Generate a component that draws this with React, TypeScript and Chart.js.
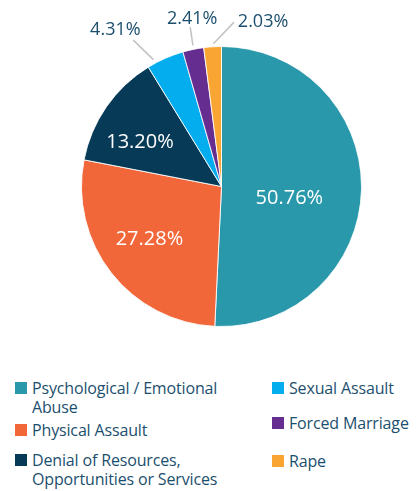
import React, { useEffect, useRef } from "react";
import { Chart, registerables } from "chart.js";

Chart.register(...registerables);

const categories = [
  "Psychological / Emotional Abuse",
  "Physical Assault",
  "Denial of Resources, Opportunities or Services",
  "Sexual Assault",
  "Forced Marriage",
  "Rape",
];
const values = [50.76, 27.28, 13.2, 4.31, 2.41, 2.03];
const valueLabels = ["50.76%", "27.28%", "13.20%", "4.31%", "2.41%", "2.03%"];
const colors = ["#2a98ab", "#f26739", "#063a56", "#03adee", "#662d91", "#f9a533"];

const TEXT_COLOR = "#1c4f6e";
const FONT = "'Open Sans', sans-serif";

// label placement styles (not data)
const insideStyle: Record<number, { nudge: number; rf: number }> = {
  0: { nudge: 7.2, rf: 0.49 },
  1: { nudge: 2.4, rf: 0.634 },
  2: { nudge: -5.7, rf: 0.666 },
};
const outsideStyle: Record<number, { nudge: number; dr: number; lx: number; ly: number; tx: number; ty: number }> = {
  3: { nudge: -4.5, dr: 4, lx: -20, ly: -19.5, tx: -18, ty: -5 },
  4: { nudge: 0.2, dr: 4, lx: -2.7, ly: -18.3, tx: 2, ty: -3.4 },
  5: { nudge: 0.4, dr: 3, lx: 20.7, ly: -21.6, tx: 29, ty: 5 },
};

const labelPlugin = {
  id: "sliceLabels",
  afterDatasetsDraw(chart: any) {
    const ctx = chart.ctx;
    const meta = chart.getDatasetMeta(0);
    ctx.save();
    meta.data.forEach((arc: any, i: number) => {
      const { x, y, startAngle, endAngle, outerRadius } = arc.getProps(
        ["x", "y", "startAngle", "endAngle", "outerRadius"],
        true
      );
      const mid = (startAngle + endAngle) / 2;
      if (insideStyle[i]) {
        const s = insideStyle[i];
        const a = mid + (s.nudge * Math.PI) / 180;
        const px = x + Math.cos(a) * outerRadius * s.rf;
        const py = y + Math.sin(a) * outerRadius * s.rf;
        ctx.fillStyle = "#ffffff";
        ctx.font = `20px ${FONT}`;
        ctx.textAlign = "center";
        ctx.textBaseline = "alphabetic";
        ctx.fillText(valueLabels[i], px, py + 7);
      } else if (outsideStyle[i]) {
        const s = outsideStyle[i];
        const a = mid + (s.nudge * Math.PI) / 180;
        const sx = x + Math.cos(a) * (outerRadius + s.dr);
        const sy = y + Math.sin(a) * (outerRadius + s.dr);
        const ex = sx + s.lx;
        const ey = sy + s.ly;
        ctx.strokeStyle = "#c2c2c2";
        ctx.lineWidth = 1.5;
        ctx.beginPath();
        ctx.moveTo(sx, sy);
        ctx.lineTo(ex, ey);
        ctx.stroke();
        ctx.fillStyle = TEXT_COLOR;
        ctx.font = `18px ${FONT}`;
        ctx.textAlign = "center";
        ctx.textBaseline = "alphabetic";
        ctx.fillText(valueLabels[i], ex + s.tx, ey + s.ty);
      }
    });
    ctx.restore();
  },
};

// legend placement (page coordinates)
const legendPos = [
  { left: 15, top: 379 },
  { left: 15, top: 421 },
  { left: 15, top: 451 },
  { left: 272, top: 379 },
  { left: 272, top: 414 },
  { left: 272, top: 452 },
];
const legendLines = [
  ["Psychological / Emotional", "Abuse"],
  ["Physical Assault"],
  ["Denial of Resources,", "Opportunities or Services"],
  ["Sexual Assault"],
  ["Forced Marriage"],
  ["Rape"],
];

export default function App() {
  const ref = useRef<HTMLCanvasElement>(null);
  useEffect(() => {
    if (!ref.current) return;
    const chart = new Chart(ref.current, {
      type: "pie",
      data: {
        labels: categories,
        datasets: [
          {
            data: values,
            backgroundColor: colors,
            borderColor: "rgba(255,255,255,0.85)",
            borderWidth: 1,
          },
        ],
      },
      options: {
        animation: false,
        responsive: false,
        maintainAspectRatio: false,
        layout: { padding: { left: 73, right: 46, top: 38, bottom: 41 } },
        plugins: {
          legend: { display: false },
          tooltip: { enabled: false },
        },
      },
      plugins: [labelPlugin],
    });
    return () => chart.destroy();
  }, []);

  return (
    <div
      style={{
        position: "fixed",
        left: 0,
        top: 0,
        width: 416,
        height: 491,
        overflow: "hidden",
        background: "#ffffff",
        fontFamily: FONT,
      }}
    >
      <canvas
        ref={ref}
        width={400}
        height={360}
        style={{ position: "absolute", left: 8, top: 8, width: 400, height: 360 }}
      />
      {categories.map((c, i) => (
        <div
          key={c}
          style={{
            position: "absolute",
            left: legendPos[i].left,
            top: legendPos[i].top,
            paddingLeft: 17,
            fontSize: 16,
            lineHeight: "19px",
            letterSpacing: "-0.15px",
            color: TEXT_COLOR,
            whiteSpace: "nowrap",
          }}
        >
          <span
            style={{
              position: "absolute",
              left: 0,
              top: 3,
              width: 12,
              height: 12,
              background: colors[i],
            }}
          />
          {legendLines[i].map((l, j) => (
            <div key={j}>{l}</div>
          ))}
        </div>
      ))}
    </div>
  );
}
